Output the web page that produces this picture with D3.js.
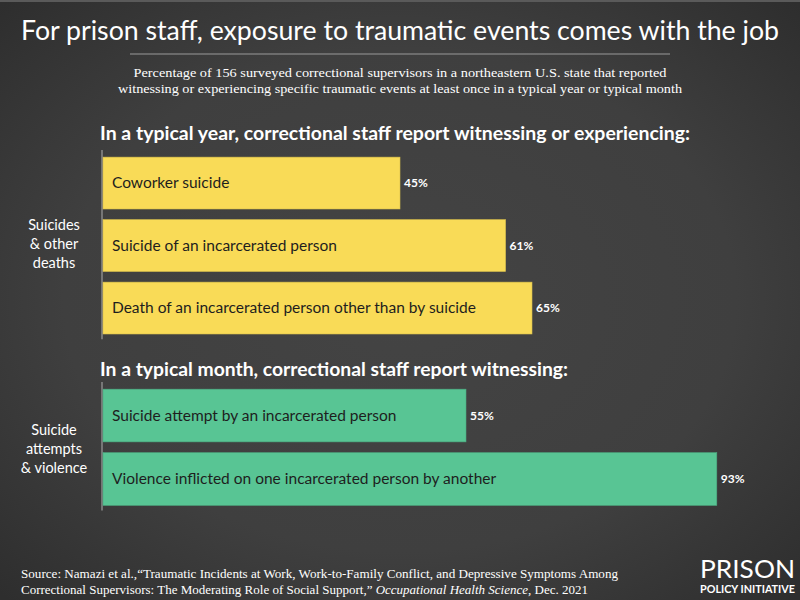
<!DOCTYPE html>
<html><head><meta charset="utf-8">
<script src="https://cdn.jsdelivr.net/npm/d3@7"></script>
<style>html,body{margin:0;padding:0;background:#3a3a3a;}svg{display:block;}</style>
</head><body>
<svg id="chart" width="800" height="600"></svg>
<script>
const yearCategories = ["Coworker suicide", "Suicide of an incarcerated person", "Death of an incarcerated person other than by suicide"];
const yearValues = [45, 61, 65];
const monthCategories = ["Suicide attempt by an incarcerated person", "Violence inflicted on one incarcerated person by another"];
const monthValues = [55, 93];
const groupLabels = [["Suicides", "& other", "deaths"], ["Suicide", "attempts", "& violence"]];
const sectionTitles = ["In a typical year, correctional staff report witnessing or experiencing:", "In a typical month, correctional staff report witnessing:"];
const title = "For prison staff, exposure to traumatic events comes with the job";
const subtitle = ["Percentage of 156 surveyed correctional supervisors in a northeastern U.S. state that reported", "witnessing or experiencing specific traumatic events at least once in a typical year or typical month"];

const svg = d3.select("#chart");
const W = 800, H = 600;
const defs = svg.append("defs");
const rg = defs.append("radialGradient").attr("id", "bg").attr("cx", "50%").attr("cy", "50%").attr("r", "70%");
rg.append("stop").attr("offset", "0%").attr("stop-color", "#444444");
rg.append("stop").attr("offset", "60%").attr("stop-color", "#3f3f3f");
rg.append("stop").attr("offset", "100%").attr("stop-color", "#2e2e2e");
svg.append("rect").attr("width", W).attr("height", H).attr("fill", "url(#bg)");
svg.append("rect").attr("width", W).attr("height", 2).attr("fill", "#5a5a5a");

const sans = "Lato, 'Open Sans', sans-serif";
const serif = "'Liberation Serif', 'DejaVu Serif', serif";

svg.append("text").attr("x", 400).attr("y", 40).attr("text-anchor", "middle")
  .attr("fill", "#ffffff").attr("font-family", sans).attr("font-size", 27)
  .attr("textLength", 758).attr("lengthAdjust", "spacingAndGlyphs").text(title);
svg.append("line").attr("x1", 130).attr("x2", 670).attr("y1", 54).attr("y2", 54)
  .attr("stroke", "#9a9a9a").attr("stroke-width", 1.2);
subtitle.forEach((s, i) => {
  svg.append("text").attr("x", 400).attr("y", 77 + i * 16).attr("text-anchor", "middle")
    .attr("fill", "#ffffff").attr("font-family", serif).attr("font-size", 13.5)
    .attr("textLength", [533, 564][i]).attr("lengthAdjust", "spacingAndGlyphs").text(s);
});

const x = d3.scaleLinear().domain([0, 100]).range([103, 763]);

function drawGroup(cats, vals, top, step, color, header, headerY, headerLen, gl, glY) {
  svg.append("text").attr("x", 100).attr("y", headerY).attr("fill", "#ffffff")
    .attr("font-family", sans).attr("font-weight", 700).attr("font-size", 18)
    .attr("textLength", headerLen).attr("lengthAdjust", "spacingAndGlyphs").text(header);
  const pi = 0.17, po = 0.05;
  const y = d3.scaleBand().domain(cats).range([top, top + step * (cats.length - pi + 2 * po)]).paddingInner(pi).paddingOuter(po);
  const g = svg.append("g");
  g.append("line").attr("x1", 102).attr("x2", 102).attr("y1", top - 4).attr("y2", top + step * (cats.length - pi + 2 * po) + 2)
    .attr("stroke", "#8a8a8a").attr("stroke-width", 1.5);
  const data = cats.map((c, i) => ({c, v: vals[i]}));
  g.selectAll("rect.bar").data(data).join("rect").attr("class", "bar")
    .attr("x", x(0)).attr("y", d => y(d.c)).attr("width", d => x(d.v) - x(0)).attr("height", y.bandwidth())
    .attr("fill", color).attr("stroke", d3.color(color).darker(0.4)).attr("stroke-width", 0.6);
  g.selectAll("text.cat").data(data).join("text").attr("class", "cat")
    .attr("x", 112).attr("y", d => y(d.c) + y.bandwidth() / 2).attr("dy", "0.35em")
    .attr("fill", "#1e1e1e").attr("font-family", sans).attr("font-size", 15.5).text(d => d.c);
  g.selectAll("text.val").data(data).join("text").attr("class", "val")
    .attr("x", d => x(d.v) + 4).attr("y", d => y(d.c) + y.bandwidth() / 2).attr("dy", "0.35em")
    .attr("fill", "#ffffff").attr("font-family", sans).attr("font-weight", 700).attr("font-size", 12)
    .text(d => d.v + "%");
  gl.forEach((t, i) => {
    svg.append("text").attr("x", 54).attr("y", glY + i * 19).attr("text-anchor", "middle")
      .attr("fill", "#ffffff").attr("font-family", sans).attr("font-size", 14.5).text(t);
  });
}
drawGroup(yearCategories, yearValues, 154, 62.5, "#f9db57", sectionTitles[0], 140, 590, groupLabels[0], 230);
drawGroup(monthCategories, monthValues, 386, 63.5, "#58c594", sectionTitles[1], 376, 468, groupLabels[1], 435);

const src1 = "Source: Namazi et al.,\u201cTraumatic Incidents at Work, Work-to-Family Conflict, and Depressive Symptoms Among";
svg.append("text").attr("x", 21).attr("y", 578).attr("fill", "#ffffff").attr("font-family", serif).attr("font-size", 13)
  .attr("textLength", 597).attr("lengthAdjust", "spacingAndGlyphs").text(src1);
const t2 = svg.append("text").attr("x", 21).attr("y", 594).attr("fill", "#ffffff").attr("font-family", serif).attr("font-size", 13)
  .attr("textLength", 567).attr("lengthAdjust", "spacingAndGlyphs");
t2.append("tspan").text("Correctional Supervisors: The Moderating Role of Social Support,\u201d ");
t2.append("tspan").attr("font-style", "italic").text("Occupational Health Science");
t2.append("tspan").text(", Dec. 2021");

svg.append("text").attr("x", 700).attr("y", 578).attr("fill", "#ffffff").attr("font-family", sans)
  .attr("font-size", 25).attr("textLength", 95).attr("lengthAdjust", "spacingAndGlyphs").text("PRISON");
svg.append("text").attr("x", 700).attr("y", 593).attr("fill", "#ffffff").attr("font-family", sans).attr("font-weight", 700)
  .attr("font-size", 11).attr("textLength", 95).attr("lengthAdjust", "spacingAndGlyphs").text("POLICY INITIATIVE");
</script>
</body></html>
